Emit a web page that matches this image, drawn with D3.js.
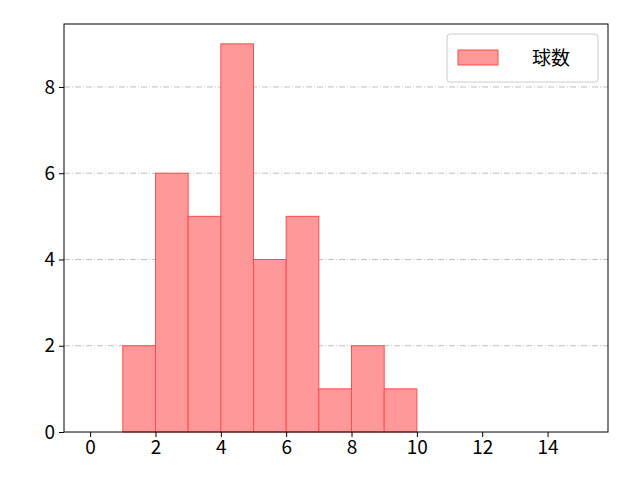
<!DOCTYPE html>
<html>
<head>
<meta charset="utf-8">
<script src="https://cdn.jsdelivr.net/npm/d3@7"></script>
<style>body{margin:0;background:#fff}</style>
</head>
<body>
<svg id="chart" width="640" height="480"></svg>
<script>
const binStarts = [1, 2, 3, 4, 5, 6, 7, 8, 9];
const counts = [2, 6, 5, 9, 4, 5, 1, 2, 1];
const xTicks = [0, 2, 4, 6, 8, 10, 12, 14];
const yTicks = [0, 2, 4, 6, 8];
const seriesName = "球数";

const margin = {top: 24, right: 32, bottom: 48, left: 64};
const width = 640 - margin.left - margin.right;
const height = 480 - margin.top - margin.bottom;
const font = "'Noto Sans CJK JP', 'Noto Sans', sans-serif";

const svg = d3.select("#chart").append("g")
    .attr("transform", "translate(" + margin.left + "," + margin.top + ")");

const x = d3.scaleLinear().domain([-0.8, 15.85]).range([0, width]);
const y = d3.scaleLinear().domain([0, 9.46]).range([height, 0]);

// grid
svg.selectAll(".grid").data(yTicks.slice(1)).enter().append("line")
    .attr("x1", 0).attr("x2", width)
    .attr("y1", d => y(d)).attr("y2", d => y(d))
    .attr("stroke", "#b0b0b0").attr("stroke-width", 0.8)
    .attr("stroke-dasharray", "6,2,1,2");

svg.selectAll(".bar").data(binStarts).enter().append("rect")
    .attr("x", d => x(d))
    .attr("y", (d, i) => y(counts[i]))
    .attr("width", d => x(d + 1) - x(d))
    .attr("height", (d, i) => height - y(counts[i]))
    .attr("fill", "#ff9999")
    .attr("stroke", "#ff4d4d").attr("stroke-width", 1);

const xAxis = svg.append("g").attr("transform", "translate(0," + height + ")")
    .call(d3.axisBottom(x).tickValues(xTicks).tickSize(5).tickPadding(3));
const yAxis = svg.append("g")
    .call(d3.axisLeft(y).tickValues(yTicks).tickSize(5).tickPadding(4));
[xAxis, yAxis].forEach(a => {
    a.attr("font-size", null).attr("font-family", null);
    a.selectAll("text").style("font-size", "19px").style("font-family", font).attr("fill", "#000");
    a.select(".domain").remove();
});

svg.append("rect").attr("width", width).attr("height", height)
    .attr("fill", "none").attr("stroke", "#000").attr("stroke-width", 1);

// legend
const lg = svg.append("g").attr("transform", "translate(" + (width - 161) + ",10)");
lg.append("rect").attr("width", 151).attr("height", 48).attr("rx", 3)
    .attr("fill", "#fff").attr("stroke", "#ccc");
lg.append("rect").attr("x", 11).attr("y", 16).attr("width", 40).attr("height", 15)
    .attr("fill", "#ff9999").attr("stroke", "#ff4d4d");
lg.append("text").attr("x", 85).attr("y", 31)
    .style("font-size", "19px").style("font-family", font).text(seriesName);
</script>
</body>
</html>
